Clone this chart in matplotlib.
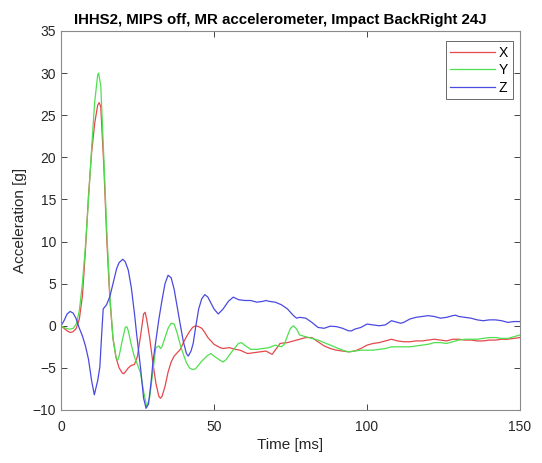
import matplotlib
matplotlib.use("Agg")
import matplotlib.pyplot as plt

# Time stamps [ms] and accelerations [g] for each accelerometer axis
t_x = [0, 1, 2, 3, 4, 5, 6, 7, 8, 9, 10, 11, 12, 12.5, 13, 14, 15, 16, 17, 18, 19, 20, 20.5,
       21, 22, 23, 24, 25, 26, 27, 27.5, 28, 29, 30, 31, 32, 32.5, 33, 34, 35, 36, 37, 38,
       39, 40, 41, 42, 43, 44, 45, 46, 47, 48, 49, 50, 52, 53, 55, 57, 58.5, 61, 63, 65, 67,
       69, 70, 71.6, 74, 76, 78, 80, 82, 84, 86, 88, 90, 92, 94, 96, 98, 100, 102, 104, 106,
       108, 110, 112, 114, 116, 118, 120, 122, 124, 126, 128, 130, 132, 134, 136, 138, 140,
       142, 144, 146, 148, 150]
acc_x = [0, -0.3, -0.6, -0.8, -0.7, -0.3, 0.8, 3.5, 9.0, 15.5, 20.5, 24.0, 26.2, 26.5, 26.0,
         19.0, 10.0, 3.0, -1.5, -3.8, -5.0, -5.6, -5.7, -5.5, -5.0, -4.7, -4.6, -3.6, -1.2,
         1.4, 1.6, 0.8, -1.5, -4.3, -6.8, -8.4, -8.6, -8.4, -7.2, -5.5, -4.3, -3.6, -3.2,
         -2.8, -2.0, -1.3, -0.7, -0.2, 0.0, -0.1, -0.3, -0.8, -1.4, -1.8, -2.2, -2.6, -2.7,
         -2.6, -2.8, -2.9, -3.3, -3.2, -3.1, -3.0, -3.4, -2.9, -2.1, -2.0, -1.8, -1.6, -1.4,
         -1.4, -1.9, -2.4, -2.7, -2.9, -3.0, -3.1, -3.0, -2.7, -2.3, -2.1, -2.0, -1.8, -1.6,
         -1.8, -1.9, -1.9, -1.8, -1.8, -1.7, -1.6, -1.7, -1.8, -1.6, -1.6, -1.7, -1.7, -1.8,
         -1.8, -1.7, -1.7, -1.6, -1.6, -1.5, -1.4]

t_y = [0, 1, 2, 3, 4, 5, 6, 7, 8, 9, 10, 11, 12, 12.3, 13, 14, 15, 16, 17, 18, 18.5, 19, 20,
       21, 21.5, 22, 23, 24, 25, 26, 27, 28, 29, 30, 31, 32, 32.5, 33, 34, 35, 36, 37, 38,
       39, 40, 41, 42, 43, 44, 46, 48, 49, 50, 52, 53, 54, 56, 58, 59, 60, 62, 64, 66, 68,
       70, 72, 73, 74, 75, 76, 77, 78, 80, 82, 84, 86, 88, 90, 92, 94, 96, 98, 100, 102, 104,
       106, 108, 110, 112, 114, 116, 118, 120, 122, 124, 126, 128, 130, 132, 134, 136, 138,
       140, 142, 144, 146, 148, 150]
acc_y = [0, -0.2, -0.35, -0.4, -0.3, 0.2, 1.8, 5.0, 9.5, 15.0, 21.0, 26.5, 29.8, 30.0, 28.5,
         20.0, 11.0, 3.5, -1.5, -3.8, -4.1, -3.6, -1.8, -0.2, -0.1, -0.6, -2.3, -3.7, -4.6,
         -5.6, -7.8, -9.6, -8.5, -5.5, -2.6, -2.4, -2.7, -2.5, -1.4, -0.3, 0.3, 0.2, -0.9,
         -2.3, -3.4, -4.4, -5.0, -5.2, -5.1, -4.2, -3.5, -3.3, -3.6, -4.1, -4.3, -4.0, -3.0,
         -2.1, -2.0, -2.3, -2.8, -2.8, -2.7, -2.6, -2.3, -2.5, -2.2, -1.2, -0.3, 0.0, -0.4,
         -1.1, -1.3, -1.5, -1.7, -2.0, -2.3, -2.6, -2.9, -3.1, -3.0, -2.9, -2.9, -2.9, -2.8,
         -2.7, -2.5, -2.5, -2.5, -2.5, -2.4, -2.3, -2.2, -2.0, -2.0, -2.1, -1.9, -1.7, -1.6,
         -1.6, -1.6, -1.5, -1.4, -1.4, -1.5, -1.5, -1.3, -1.1]

t_z = [0, 1, 2, 3, 4, 5, 6, 7, 8, 9, 10, 10.9, 12, 12.7, 13.3, 13.8, 14.9, 16, 17, 18.2, 19,
       20.2, 21, 22, 23, 24, 24.7, 26, 27, 27.8, 28.6, 29.5, 30, 31, 32, 33, 34, 35, 36, 37,
       38, 39, 40, 41, 41.6, 42.5, 43.2, 44, 45, 46, 47, 48, 49, 50, 51.4, 53, 54.7, 56.3,
       58, 60, 62, 64, 66, 67, 68, 70, 72, 74, 76, 77, 78, 80, 82, 84, 86, 88, 90, 92, 94,
       95, 96, 98, 100, 102, 104, 106, 108, 110, 111, 112, 114, 116, 118, 120, 122, 124, 126,
       128, 129, 130, 132, 134, 136, 138, 140, 142, 144, 146, 148, 150]
acc_z = [0, 0.6, 1.4, 1.7, 1.5, 0.8, -0.3, -1.2, -2.4, -4.0, -6.5, -8.2, -6.5, -4.9, -1.0,
         2.0, 2.5, 3.5, 5.0, 6.8, 7.5, 7.9, 7.6, 6.6, 4.5, 1.5, -0.9, -5.0, -8.6, -9.8, -9.3,
         -6.5, -4.5, -1.8, 0.8, 3.0, 5.0, 6.0, 5.7, 4.3, 2.2, 0.1, -1.9, -3.3, -3.6, -3.0,
         -2.1, -0.2, 2.0, 3.2, 3.7, 3.4, 2.7, 2.0, 1.4, 2.0, 2.9, 3.4, 3.1, 3.0, 3.0, 2.8, 2.9,
         3.0, 2.9, 2.8, 2.5, 2.0, 1.2, 0.9, 1.0, 0.9, 0.4, -0.2, -0.3, -0.05, -0.1, -0.3, -0.6,
         -0.6, -0.4, -0.2, 0.2, 0.1, 0.0, 0.1, 0.6, 0.4, 0.3, 0.4, 0.8, 1.0, 1.1, 1.2, 1.1,
         0.9, 1.0, 1.2, 1.25, 1.1, 1.0, 0.9, 0.7, 0.6, 0.7, 0.7, 0.6, 0.4, 0.5, 0.5]

series_labels = ["X", "Y", "Z"]
x_ticks = [0, 50, 100, 150]
y_ticks = [-10, -5, 0, 5, 10, 15, 20, 25, 30, 35]

plt.rcParams["font.family"] = ["Liberation Sans", "DejaVu Sans"]

fig = plt.figure(figsize=(5.42, 4.63), dpi=100)
ax = fig.add_axes([0.1125, 0.1145, 0.8469, 0.8186])

ax.plot(t_x, acc_x, color="#e5484d", lw=0.9, label=series_labels[0])
ax.plot(t_y, acc_y, color="#4fe04f", lw=0.9, label=series_labels[1])
ax.plot(t_z, acc_z, color="#4a4ae0", lw=0.9, label=series_labels[2])

ax.set_xlim(0, 150)
ax.set_ylim(-10, 35)
ax.set_xticks(x_ticks)
ax.set_yticks(y_ticks)
ax.tick_params(direction="in", top=True, right=True, length=4, width=0.6,
               colors="#262626", labelsize=10)
ax.tick_params(axis="x", pad=7)
for s in ax.spines.values():
    s.set_color("#8a8a8a")
    s.set_linewidth(0.8)

ax.set_xlabel("Time [ms]", fontsize=11, color="#262626", labelpad=3)
ax.set_ylabel("Acceleration [g]", fontsize=11, color="#262626")
ax.set_title("IHHS2, MIPS off, MR accelerometer, Impact BackRight 24J",
             fontsize=10.8, fontweight="bold", color="#000000", pad=5, x=0.478)

leg = ax.legend(loc="upper right", bbox_to_anchor=(0.985, 0.974), borderaxespad=0,
                fontsize=10, frameon=True, fancybox=False, handlelength=3.2,
                handletextpad=0.3, borderpad=0.35, labelspacing=0.25)
leg.get_frame().set_edgecolor("#262626")
leg.get_frame().set_linewidth(0.6)

fig.savefig("out.png", dpi=100, facecolor="white")
